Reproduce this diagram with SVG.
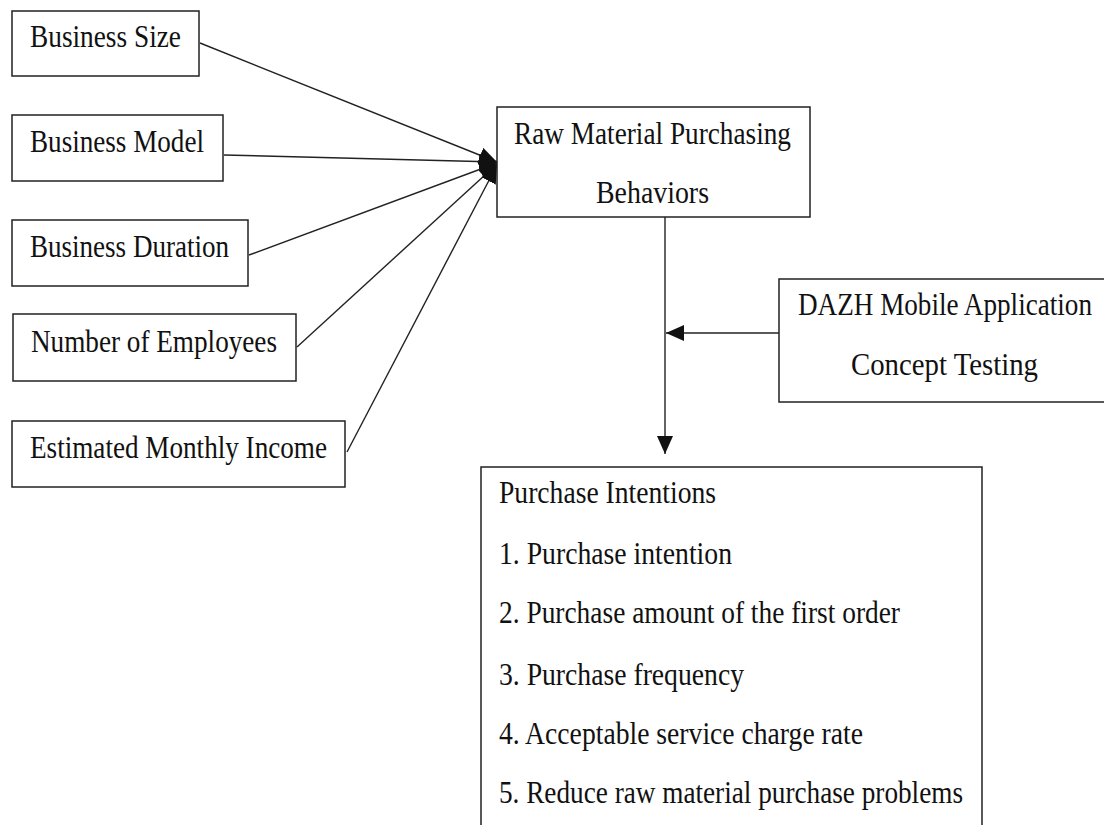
<svg xmlns="http://www.w3.org/2000/svg" width="1104" height="825" viewBox="0 0 1104 825">
  <style>
    .box { fill: #fff; stroke: #222; stroke-width: 1.5; }
    .lbl { font-family: "Liberation Serif", "Times New Roman", serif; font-size: 31px; fill: #111; }
    .edge { stroke: #222; stroke-width: 1.4; fill: none; }
  </style>
  <defs>
    <marker id="arrow" viewBox="0 0 18 16" refX="18" refY="8" markerWidth="18" markerHeight="16" markerUnits="userSpaceOnUse" orient="auto">
      <path d="M0,0 L18,8 L0,16 Z" fill="#111"/>
    </marker>
  </defs>
  <rect width="1104" height="825" fill="#fff"/>

  <g id="connectors">
    <line class="edge" x1="200" y1="43" x2="497" y2="162" marker-end="url(#arrow)"/>
    <line class="edge" x1="224" y1="155" x2="497" y2="162" marker-end="url(#arrow)"/>
    <line class="edge" x1="249" y1="255" x2="497" y2="163" marker-end="url(#arrow)"/>
    <line class="edge" x1="297" y1="347" x2="497" y2="164" marker-end="url(#arrow)"/>
    <line class="edge" x1="347" y1="452" x2="497" y2="165" marker-end="url(#arrow)"/>
    <line class="edge" x1="665" y1="217" x2="665" y2="454" marker-end="url(#arrow)"/>
    <line class="edge" x1="779" y1="333" x2="666" y2="333" marker-end="url(#arrow)"/>
  </g>

  <g id="business-size">
    <rect class="box" x="12" y="11" width="187" height="65"/>
    <text class="lbl" x="30" y="47" textLength="151" lengthAdjust="spacingAndGlyphs">Business Size</text>
  </g>
  <g id="business-model">
    <rect class="box" x="12" y="115" width="211" height="66"/>
    <text class="lbl" x="30" y="152" textLength="174" lengthAdjust="spacingAndGlyphs">Business Model</text>
  </g>
  <g id="business-duration">
    <rect class="box" x="12" y="220" width="236" height="66"/>
    <text class="lbl" x="30" y="257" textLength="199" lengthAdjust="spacingAndGlyphs">Business Duration</text>
  </g>
  <g id="number-of-employees">
    <rect class="box" x="13" y="314" width="283" height="67"/>
    <text class="lbl" x="31" y="352" textLength="246" lengthAdjust="spacingAndGlyphs">Number of Employees</text>
  </g>
  <g id="estimated-monthly-income">
    <rect class="box" x="12" y="421" width="333" height="66"/>
    <text class="lbl" x="30" y="458" textLength="297" lengthAdjust="spacingAndGlyphs">Estimated Monthly Income</text>
  </g>

  <g id="raw-material-purchasing-behaviors">
    <rect class="box" x="497" y="107" width="313" height="110"/>
    <text class="lbl" x="514" y="144" textLength="277" lengthAdjust="spacingAndGlyphs">Raw Material Purchasing</text>
    <text class="lbl" x="596" y="203" textLength="113" lengthAdjust="spacingAndGlyphs">Behaviors</text>
  </g>

  <g id="dazh-concept-testing">
    <rect class="box" x="779" y="279" width="335" height="123"/>
    <text class="lbl" x="798" y="315" textLength="294" lengthAdjust="spacingAndGlyphs">DAZH Mobile Application</text>
    <text class="lbl" x="851" y="375" textLength="187" lengthAdjust="spacingAndGlyphs">Concept  Testing</text>
  </g>

  <g id="purchase-intentions">
    <rect class="box" x="481" y="467" width="501" height="370"/>
    <text class="lbl" x="499" y="503" textLength="217" lengthAdjust="spacingAndGlyphs">Purchase Intentions</text>
    <text class="lbl" x="499" y="564" textLength="233" lengthAdjust="spacingAndGlyphs">1. Purchase intention</text>
    <text class="lbl" x="499" y="623" textLength="401" lengthAdjust="spacingAndGlyphs">2. Purchase amount of the first order</text>
    <text class="lbl" x="499" y="685" textLength="245" lengthAdjust="spacingAndGlyphs">3. Purchase frequency</text>
    <text class="lbl" x="499" y="744" textLength="364" lengthAdjust="spacingAndGlyphs">4. Acceptable service charge rate</text>
    <text class="lbl" x="499" y="803" textLength="464" lengthAdjust="spacingAndGlyphs">5. Reduce raw material purchase problems</text>
  </g>
</svg>
